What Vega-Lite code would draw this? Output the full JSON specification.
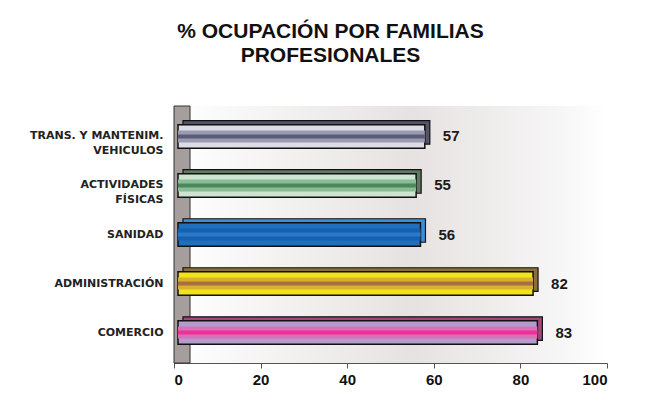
{
  "$schema": "https://vega.github.io/schema/vega-lite/v6.json",
  "autosize": "none",
  "width": 433,
  "height": 257,
  "padding": {"left": 174, "top": 106, "right": 44, "bottom": 56},
  "background": "#ffffff",
  "title": {
    "text": ["% OCUPACIÓN POR FAMILIAS", "PROFESIONALES"],
    "font": "Liberation Sans",
    "fontSize": 21,
    "fontWeight": "bold",
    "lineHeight": 24,
    "color": "#111111",
    "anchor": "middle",
    "dx": -60,
    "offset": 40
  },
  "config": {
    "view": {
      "stroke": null,
      "fill": {
        "gradient": "linear", "x1": 0, "y1": 0, "x2": 1, "y2": 0,
        "stops": [
          {"offset": 0, "color": "#ffffff"},
          {"offset": 0.55, "color": "#e6e2e1"},
          {"offset": 0.88, "color": "#f6f5f5"},
          {"offset": 1, "color": "#ffffff"}
        ]
      }
    }
  },
  "data": {
    "values": [
      {"familia": "TRANS. Y MANTENIM.|VEHICULOS", "valor": 57},
      {"familia": "ACTIVIDADES|FÍSICAS", "valor": 55},
      {"familia": "SANIDAD", "valor": 56},
      {"familia": "ADMINISTRACIÓN", "valor": 82},
      {"familia": "COMERCIO", "valor": 83}
    ]
  },
  "layer": [
    {
      "data": {"values": [{}]},
      "mark": {"type": "rect", "fill": "#a59e9c", "stroke": "#333333", "strokeWidth": 1},
      "encoding": {
        "x": {"datum": 0, "type": "quantitative"},
        "x2": {"datum": 3.7}
      }
    },
    {
      "mark": {"type": "bar", "xOffset": 9, "yOffset": -4, "stroke": "#111111", "strokeWidth": 1.2, "cornerRadius": 0},
      "encoding": {
        "y": {"field": "familia", "type": "nominal", "sort": null,
              "scale": {"paddingInner": 0.52, "paddingOuter": 0.38},
              "axis": {"title": null, "ticks": false, "domain": true, "domainColor": "#333333",
                       "labelFont": "DejaVu Sans", "labelFontSize": 11, "labelFontWeight": "bold",
                       "labelColor": "#222222", "labelPadding": 11, "labelLineHeight": 15,
                       "labelExpr": "split(datum.label, '|')"}},
        "x": {"field": "valor", "type": "quantitative",
              "scale": {"domain": [0, 100], "nice": false},
              "axis": {"title": null, "grid": false, "values": [0, 20, 40, 60, 80, 100],
                       "domainColor": "#555555", "tickColor": "#555555", "tickSize": 5,
                       "labelFont": "Liberation Sans", "labelFontSize": 15, "labelFontWeight": "bold",
                       "labelColor": "#111111", "labelPadding": 4}},
        "color": {"field": "familia", "type": "nominal", "legend": null,
                  "scale": {"domain": ["TRANS. Y MANTENIM.|VEHICULOS", "ACTIVIDADES|FÍSICAS", "SANIDAD", "ADMINISTRACIÓN", "COMERCIO"],
                            "range": ["#55556a", "#5e7a62", "#3a8fd8", "#8a6e3e", "#a0487a"]}}
      }
    },
    {
      "mark": {"type": "bar", "xOffset": 4, "stroke": "#111111", "strokeWidth": 1.5},
      "encoding": {
        "y": {"field": "familia", "type": "nominal", "sort": null},
        "x": {"field": "valor", "type": "quantitative"},
        "color": {"field": "familia", "type": "nominal", "legend": null,
                  "scale": {"domain": ["TRANS. Y MANTENIM.|VEHICULOS", "ACTIVIDADES|FÍSICAS", "SANIDAD", "ADMINISTRACIÓN", "COMERCIO"],
                            "range": ["#dcdce4", "#cde4d0", "#1f6fbf", "#f2e21c", "#b59ad0"]}}
      }
    },
    {
      "mark": {"type": "bar", "xOffset": 4, "size": 12},
      "encoding": {
        "y": {"field": "familia", "type": "nominal", "sort": null},
        "x": {"field": "valor", "type": "quantitative"},
        "color": {"field": "familia", "type": "nominal", "legend": null,
                  "scale": {"domain": ["TRANS. Y MANTENIM.|VEHICULOS", "ACTIVIDADES|FÍSICAS", "SANIDAD", "ADMINISTRACIÓN", "COMERCIO"],
                            "range": ["#9a9ab0", "#8cbc96", "#1660b0", "#d8b032", "#d870b4"]}}
      }
    },
    {
      "mark": {"type": "bar", "xOffset": 4, "size": 4},
      "encoding": {
        "y": {"field": "familia", "type": "nominal", "sort": null},
        "x": {"field": "valor", "type": "quantitative"},
        "color": {"field": "familia", "type": "nominal", "legend": null,
                  "scale": {"domain": ["TRANS. Y MANTENIM.|VEHICULOS", "ACTIVIDADES|FÍSICAS", "SANIDAD", "ADMINISTRACIÓN", "COMERCIO"],
                            "range": ["#5c5c7a", "#4a8a5a", "#2a78c8", "#a87040", "#f0309a"]}}
      }
    },
    {
      "mark": {"type": "text", "align": "left", "baseline": "middle", "dx": 22,
               "font": "Liberation Sans", "fontSize": 15, "fontWeight": "bold", "color": "#1a1a1a"},
      "encoding": {
        "y": {"field": "familia", "type": "nominal", "sort": null},
        "x": {"field": "valor", "type": "quantitative"},
        "text": {"field": "valor", "type": "quantitative"}
      }
    }
  ],
  "resolve": {"scale": {"color": "independent"}}
}
